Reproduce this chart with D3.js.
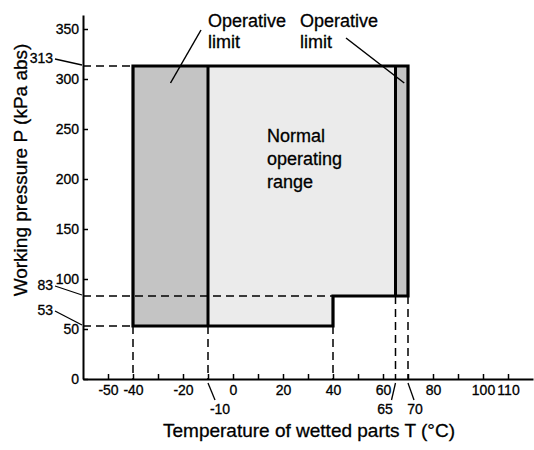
<!DOCTYPE html>
<html>
<head>
<meta charset="utf-8">
<script src="https://cdn.jsdelivr.net/npm/d3@7"></script>
<style>
  body { margin: 0; background: white; }
  text { font-family: "Liberation Sans", Arial, sans-serif; fill: black; stroke: black; stroke-width: 0.3px; }
</style>
</head>
<body>
<div id="container"></div>
<script>
/* CONSTANTS AND GLOBALS */
const width = 534,
  height = 450;

/* DATA */
const xTicks = [-50, -40, -30, -20, -10, 0, 10, 20, 30, 40, 50, 60, 70, 80, 90, 100, 110];
const xTickLabels = [-50, -40, -20, 0, 20, 40, 60, 80, 100, 110];
const yTicks = [0, 50, 100, 150, 200, 250, 300, 350];

// limits
const pMax = 313, pLow = 53, pStep = 83;
const tMin = -40, tNormLo = -10, tStep = 40, tNormHi = 65, tMax = 70;

// regions (polygons in data units)
const regions = [
  { name: "limitLow", fill: "#c4c4c4",
    pts: [[tMin, pLow], [tMin, pMax], [tNormLo, pMax], [tNormLo, pLow]] },
  { name: "normal", fill: "#ebebeb",
    pts: [[tNormLo, pLow], [tNormLo, pMax], [tNormHi, pMax], [tNormHi, pStep], [tStep, pStep], [tStep, pLow]] },
  { name: "limitHigh", fill: "#c4c4c4",
    pts: [[tNormHi, pStep], [tNormHi, pMax], [tMax, pMax], [tMax, pStep]] }
];
const outline = [[tMin, pLow], [tMin, pMax], [tMax, pMax], [tMax, pStep], [tStep, pStep], [tStep, pLow]];
const innerLines = [[tNormLo, pLow, pMax], [tNormHi, pStep, pMax]];

// dashed guides: horizontal [p, tEnd], vertical [t, pStart]
const hGuides = [[pMax, tMin], [pStep, tStep], [pLow, tMin]];
const vGuides = [[tMin, pLow], [tNormLo, pLow], [tStep, pLow], [tNormHi, pStep], [tMax, pStep]];

const svg = d3.select("#container")
  .append("svg")
  .attr("width", width)
  .attr("height", height)
  .style("background-color", "white");

/* SCALES */
const xScale = d3.scaleLinear()
  .domain([-60, 120])
  .range([83, 533]);

const yScale = d3.scaleLinear()
  .domain([0, 364])
  .range([379, 15]);

const line = d3.line().x(d => xScale(d[0])).y(d => yScale(d[1]));

/* REGIONS */
svg.selectAll(".region")
  .data(regions)
  .join("path")
  .attr("class", "region")
  .attr("d", d => line(d.pts) + "Z")
  .attr("fill", d => d.fill);

/* DASHED GUIDES */
const x0 = xScale.range()[0], y0 = yScale.range()[0];
svg.selectAll(".hguide")
  .data(hGuides)
  .join("line")
  .attr("x1", x0).attr("x2", d => xScale(d[1]))
  .attr("y1", d => yScale(d[0])).attr("y2", d => yScale(d[0]))
  .attr("stroke", "black").attr("stroke-width", 1.5)
  .attr("stroke-dasharray", "8,5");

svg.selectAll(".vguide")
  .data(vGuides)
  .join("line")
  .attr("x1", d => xScale(d[0])).attr("x2", d => xScale(d[0]))
  .attr("y1", d => yScale(d[1])).attr("y2", y0)
  .attr("stroke", "black").attr("stroke-width", 1.5)
  .attr("stroke-dasharray", "8,5");

/* OUTLINE */
svg.append("path")
  .attr("d", line(outline) + "Z")
  .attr("fill", "none")
  .attr("stroke", "black")
  .attr("stroke-width", 3.2)
  .attr("stroke-linejoin", "miter");

svg.selectAll(".inner")
  .data(innerLines)
  .join("line")
  .attr("x1", d => xScale(d[0])).attr("x2", d => xScale(d[0]))
  .attr("y1", d => yScale(d[1])).attr("y2", d => yScale(d[2]))
  .attr("stroke", "black").attr("stroke-width", 3);

/* AXES */
const xAxis = svg.append("g")
  .attr("transform", `translate(0,${y0})`)
  .call(d3.axisBottom(xScale)
    .tickValues(xTicks)
    .tickSizeInner(-5)
    .tickSizeOuter(0)
    .tickPadding(6)
    .tickFormat(d => xTickLabels.includes(d) ? d : ""));

const yAxis = svg.append("g")
  .attr("transform", `translate(${x0},0)`)
  .call(d3.axisLeft(yScale)
    .tickValues(yTicks)
    .tickSizeInner(-5)
    .tickSizeOuter(0)
    .tickPadding(4));

[xAxis, yAxis].forEach(g => {
  g.select(".domain").attr("stroke-width", 2);
  g.selectAll(".tick line").attr("stroke-width", 1.5);
  g.selectAll("text")
    .style("font-family", '"Liberation Sans", Arial, sans-serif')
    .style("font-size", "14px")
    .attr("fill", "black");
});

/* SPECIAL VALUE LABELS */
const pLabels = [pMax, pStep, pLow];
const pLabelY = { 313: 58, 83: 285, 53: 310 };
svg.selectAll(".plabel")
  .data(pLabels)
  .join("text")
  .attr("x", 53).attr("y", d => pLabelY[d])
  .attr("dy", "0.35em")
  .attr("text-anchor", "end")
  .style("font-size", "14px")
  .text(d => d);

svg.selectAll(".pleader")
  .data(pLabels)
  .join("line")
  .attr("x1", 55).attr("y1", d => pLabelY[d] + 1)
  .attr("x2", x0 - 1).attr("y2", d => yScale(d) - 1)
  .attr("stroke", "black").attr("stroke-width", 1.3);

const tLabels = [[tNormLo, 220, 7], [tNormHi, 385, -4], [tMax, 415, 6]];
svg.selectAll(".tlabel")
  .data(tLabels)
  .join("text")
  .attr("x", d => d[1]).attr("y", 414)
  .attr("text-anchor", "middle")
  .style("font-size", "14px")
  .text(d => d[0]);

svg.selectAll(".tleader")
  .data(tLabels)
  .join("line")
  .attr("x1", d => xScale(d[0])).attr("y1", y0 + 4)
  .attr("x2", d => xScale(d[0]) + d[2]).attr("y2", y0 + 21)
  .attr("stroke", "black").attr("stroke-width", 1.3);

/* AXIS TITLES */
svg.append("text")
  .attr("x", 309).attr("y", 437)
  .attr("text-anchor", "middle")
  .style("font-size", "19px")
  .text("Temperature of wetted parts T (°C)");

svg.append("text")
  .attr("transform", "translate(27,170) rotate(-90)")
  .attr("text-anchor", "middle")
  .style("font-size", "19px")
  .text("Working pressure P (kPa abs)");

/* ANNOTATIONS */
const annots = [
  { lines: ["Operative", "limit"], x: 208, y: 27, from: [201, 30], to: [-25, 296] },
  { lines: ["Operative", "limit"], x: 300, y: 27, from: [346, 38], to: [68.5, 296] }
];
annots.forEach(a => {
  const t = svg.append("text")
    .attr("x", a.x).attr("y", a.y)
    .style("font-size", "18px");
  t.selectAll("tspan")
    .data(a.lines)
    .join("tspan")
    .attr("x", a.x)
    .attr("dy", (d, i) => i === 0 ? 0 : 21)
    .text(d => d);
  svg.append("line")
    .attr("x1", a.from[0]).attr("y1", a.from[1])
    .attr("x2", xScale(a.to[0])).attr("y2", yScale(a.to[1]))
    .attr("stroke", "black").attr("stroke-width", 1.5);
});

const normalText = svg.append("text")
  .attr("x", 267).attr("y", 142)
  .style("font-size", "18px");
normalText.selectAll("tspan")
  .data(["Normal", "operating", "range"])
  .join("tspan")
  .attr("x", 267)
  .attr("dy", (d, i) => i === 0 ? 0 : 23)
  .text(d => d);
</script>
</body>
</html>
